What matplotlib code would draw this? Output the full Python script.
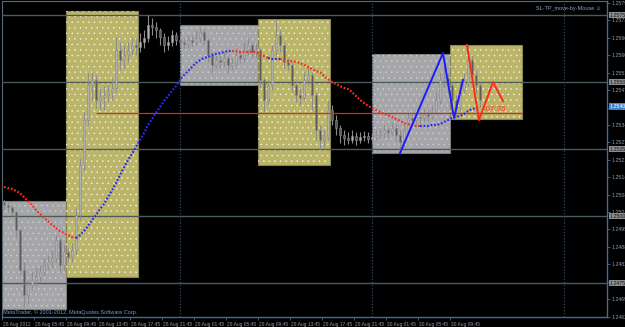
import numpy as np
import matplotlib
matplotlib.use("Agg")
import matplotlib.pyplot as plt
from matplotlib.patches import Rectangle
import matplotlib.transforms as mtransforms

# ---------------- data ----------------
# 30-minute bars, time in hours since 28 Aug 2012 00:00
bar_start_hour = 2.0
bar_step_hour = 0.5
first_open = 1.25053

close = [1.25041, 1.25034, 1.25015, 1.24948, 1.24799, 1.24706, 1.24743, 1.24762, 1.24773, 1.24791,
         1.24818, 1.24829, 1.24844, 1.24911, 1.24818, 1.24866, 1.24847, 1.24873, 1.25004, 1.25191,
         1.25358, 1.25489, 1.25508, 1.25433, 1.25444, 1.25452, 1.25463, 1.25478, 1.25619, 1.25582,
         1.25601, 1.25619, 1.25638, 1.25631, 1.25649, 1.25664, 1.25713, 1.25705, 1.25694, 1.25668,
         1.25638, 1.25649, 1.25675, 1.25657, 1.25649, 1.25642, 1.25657, 1.25649, 1.25664, 1.25687,
         1.25657, 1.25601, 1.25564, 1.25582, 1.25575, 1.25590, 1.25564, 1.25571, 1.25601, 1.25590,
         1.25619, 1.25638, 1.25612, 1.25619, 1.25508, 1.25433, 1.25489, 1.25619, 1.25675, 1.25638,
         1.25575, 1.25564, 1.25489, 1.25452, 1.25440, 1.25508, 1.25526, 1.25452, 1.25321, 1.25284,
         1.25295, 1.25396, 1.25358, 1.25329, 1.25302, 1.25291, 1.25284, 1.25299, 1.25284, 1.25295,
         1.25299, 1.25288, 1.25295, 1.25302, 1.25310, 1.25321, 1.25314, 1.25329, 1.25302, 1.25276,
         1.25321, 1.25366, 1.25358, 1.25370, 1.25366, 1.25381, 1.25373, 1.25388, 1.25433, 1.25508,
         1.25515, 1.25489, 1.25433, 1.25403, 1.25470, 1.25500, 1.25582, 1.25526, 1.25489, 1.25433]

high = [1.25060, 1.25053, 1.25045, 1.25023, 1.24956, 1.24829, 1.24762, 1.24791, 1.24806, 1.24818,
        1.24844, 1.24855, 1.24873, 1.24929, 1.24918, 1.24892, 1.24881, 1.24900, 1.25030, 1.25217,
        1.25388, 1.25534, 1.25537, 1.25526, 1.25478, 1.25485, 1.25489, 1.25515, 1.25668, 1.25649,
        1.25638, 1.25649, 1.25664, 1.25664, 1.25683, 1.25694, 1.25750, 1.25739, 1.25724, 1.25702,
        1.25683, 1.25672, 1.25694, 1.25687, 1.25675, 1.25664, 1.25675, 1.25675, 1.25694, 1.25705,
        1.25702, 1.25664, 1.25612, 1.25601, 1.25601, 1.25612, 1.25601, 1.25590, 1.25627, 1.25619,
        1.25649, 1.25664, 1.25649, 1.25642, 1.25627, 1.25515, 1.25508, 1.25638, 1.25731, 1.25694,
        1.25649, 1.25590, 1.25575, 1.25508, 1.25478, 1.25537, 1.25556, 1.25537, 1.25463, 1.25340,
        1.25321, 1.25433, 1.25414, 1.25377, 1.25340, 1.25321, 1.25314, 1.25321, 1.25314, 1.25314,
        1.25317, 1.25314, 1.25310, 1.25321, 1.25329, 1.25340, 1.25332, 1.25351, 1.25343, 1.25321,
        1.25340, 1.25388, 1.25385, 1.25388, 1.25392, 1.25399, 1.25396, 1.25411, 1.25463, 1.25537,
        1.25582, 1.25534, 1.25500, 1.25452, 1.25496, 1.25534, 1.25638, 1.25601, 1.25545, 1.25500]

low = [1.25023, 1.25015, 1.25000, 1.24918, 1.24780, 1.24661, 1.24676, 1.24724, 1.24739, 1.24754,
       1.24777, 1.24799, 1.24810, 1.24829, 1.24791, 1.24799, 1.24829, 1.24829, 1.24859, 1.24985,
       1.25172, 1.25340, 1.25433, 1.25403, 1.25396, 1.25396, 1.25426, 1.25433, 1.25463, 1.25545,
       1.25552, 1.25575, 1.25601, 1.25601, 1.25612, 1.25627, 1.25649, 1.25675, 1.25664, 1.25638,
       1.25612, 1.25619, 1.25634, 1.25638, 1.25631, 1.25627, 1.25627, 1.25631, 1.25638, 1.25649,
       1.25638, 1.25575, 1.25534, 1.25552, 1.25552, 1.25560, 1.25534, 1.25545, 1.25560, 1.25571,
       1.25575, 1.25601, 1.25590, 1.25590, 1.25478, 1.25388, 1.25414, 1.25470, 1.25601, 1.25612,
       1.25552, 1.25545, 1.25463, 1.25426, 1.25414, 1.25433, 1.25489, 1.25396, 1.25284, 1.25246,
       1.25258, 1.25284, 1.25340, 1.25302, 1.25273, 1.25265, 1.25269, 1.25273, 1.25265, 1.25273,
       1.25280, 1.25273, 1.25276, 1.25284, 1.25288, 1.25295, 1.25295, 1.25302, 1.25280, 1.25246,
       1.25258, 1.25310, 1.25340, 1.25343, 1.25347, 1.25355, 1.25351, 1.25362, 1.25381, 1.25418,
       1.25478, 1.25459, 1.25396, 1.25370, 1.25388, 1.25459, 1.25485, 1.25496, 1.25459, 1.25407]

# moving average (dotted, red = falling, blue = rising)
ma = [1.25109, 1.25105, 1.25101, 1.25094, 1.25086, 1.25071, 1.25056, 1.25041, 1.25023, 1.25008,
      1.24993, 1.24982, 1.24967, 1.24956, 1.24944, 1.24937, 1.24929, 1.24922, 1.24918, 1.24929,
      1.24944, 1.24963, 1.24985, 1.25004, 1.25026, 1.25045, 1.25071, 1.25097, 1.25123, 1.25153,
      1.25183, 1.25209, 1.25232, 1.25258, 1.25284, 1.25310, 1.25340, 1.25362, 1.25385, 1.25407,
      1.25429, 1.25448, 1.25467, 1.25485, 1.25508, 1.25526, 1.25541, 1.25556, 1.25571, 1.25582,
      1.25590, 1.25593, 1.25601, 1.25605, 1.25608, 1.25612, 1.25616, 1.25616, 1.25615, 1.25612,
      1.25612, 1.25612, 1.25612, 1.25612, 1.25605, 1.25597, 1.25590, 1.25586, 1.25586, 1.25586,
      1.25582, 1.25578, 1.25578, 1.25575, 1.25571, 1.25564, 1.25556, 1.25549, 1.25541, 1.25537,
      1.25522, 1.25511, 1.25500, 1.25493, 1.25485, 1.25478, 1.25474, 1.25463, 1.25448, 1.25433,
      1.25422, 1.25411, 1.25403, 1.25396, 1.25388, 1.25381, 1.25377, 1.25370, 1.25362, 1.25355,
      1.25347, 1.25343, 1.25340, 1.25336, 1.25336, 1.25336, 1.25336, 1.25340, 1.25340, 1.25343,
      1.25351, 1.25358, 1.25366, 1.25370, 1.25373, 1.25381, 1.25392, 1.25399, 1.25403, 1.25403]
# trend runs of the MA: (number of points, 'down'/'up')
ma_runs = [(19, "down"), (39, "up"), (9, "down"), (3, "up"), (35, "down"), (15, "up")]

# session rectangles: (start hour, end hour, top price, bottom price, kind)
boxes = [(1.75, 9.75, 1.25056, 1.24653, "range"),
         (9.75, 18.75, 1.25765, 1.24773, "break"),
         (24.0, 33.75, 1.25713, 1.25489, "range"),
         (33.75, 42.75, 1.25735, 1.25191, "break"),
         (48.0, 57.75, 1.25605, 1.25235, "range"),
         (57.75, 66.75, 1.25638, 1.25362, "break")]

level_lines = [1.2575, 1.2550, 1.2525, 1.2500, 1.2475]
day_separators = [24.0, 48.0, 72.0]
red_level = 1.25385
red_level_span = (13.5, 66.75)

zz_blue_t = [51.5, 56.875, 58.25, 59.375]
zz_blue_p = [1.25235, 1.25608, 1.25366, 1.25508]
zz_red_t = [59.875, 61.375, 63.125, 64.375]
zz_red_p = [1.25638, 1.25358, 1.25500, 1.25429]
timer_text = "-07:35"
timer_pos = (61.9, 1.25396)

price_ticks = [round(1.25795 - 0.00065 * k, 5) for k in range(19)]
bid_price = 1.25409

time_ticks = [1.75 + 4 * k for k in range(15)]
time_labels = ["28 Aug 2012", "28 Aug 05:45", "28 Aug 09:45", "28 Aug 13:45", "28 Aug 17:45",
               "28 Aug 21:45", "29 Aug 01:45", "29 Aug 05:45", "29 Aug 09:45", "29 Aug 13:45",
               "29 Aug 17:45", "29 Aug 21:45", "30 Aug 01:45", "30 Aug 05:45", "30 Aug 09:45"]

# ---------------- figure ----------------
plt.rcParams["font.family"] = ["Liberation Sans", "DejaVu Sans"]
plt.rcParams["hatch.linewidth"] = 0.3

W, H = 625, 327
fig = plt.figure(figsize=(W / 100, H / 100), dpi=100, facecolor="black")
ax = fig.add_axes([2 / W, 10 / H, 605 / W, 316 / H])
ax.set_facecolor("black")
ax.set_xlim(1.75, 77.375)
ax.set_ylim(1.246236, 1.258023)

# rectangles
for t0, t1, ptop, pbot, kind in boxes:
    fc = "#bbb56a" if kind == "break" else "#a6a6a8"
    ec = "#8a8650" if kind == "break" else "#7c7c7c"
    ax.add_patch(Rectangle((t0, pbot), t1 - t0, ptop - pbot, facecolor=fc,
                           edgecolor=ec, lw=0.8, zorder=1))
    ax.add_patch(Rectangle((t0, pbot), t1 - t0, ptop - pbot, facecolor="none",
                           edgecolor=(1, 1, 1, 0.85) if kind == "break" else (0.85, 0.85, 0.95, 0.8),
                           hatch="...", lw=0, zorder=1.1))

# horizontal level lines & day separators
for p in level_lines:
    ax.axhline(p, color="#4b5a5a", lw=1.0, zorder=3)
for t in day_separators:
    ax.axvline(t, color="#2d4a68", lw=0.9, ls=(0, (1, 1.5)), zorder=3)

# candles
times = bar_start_hour + bar_step_hour * np.arange(len(close))
opens = [first_open] + close[:-1]
ax.vlines(times, low, high, color="#8c8c8c", lw=0.8, zorder=4)
for t, o, c in zip(times, opens, close):
    bottom = min(o, c)
    height = max(abs(c - o), 0.000015)
    fc = "#b0b0b0" if c >= o else "#5a5a5a"
    ax.add_patch(Rectangle((t - 0.15, bottom), 0.3, height, facecolor=fc,
                           edgecolor="#8c8c8c", lw=0.4, zorder=4.1))

# red level line
ax.hlines(red_level, red_level_span[0], red_level_span[1], color="#c8341e", lw=0.9, zorder=5)

# moving average
start = 0
for n, kind in ma_runs:
    a = max(start - 1, 0)
    b = start + n
    ax.plot(times[a:b], ma[a:b], color="#ff2a1a" if kind == "down" else "#2a2aff",
            lw=1.6, ls=(0, (0.8, 0.8)), zorder=6)
    start += n

# zigzags
ax.plot(zz_blue_t, zz_blue_p, color="#1a1aff", lw=1.4, zorder=7)
ax.plot(zz_red_t, zz_red_p, color="#ff2a1a", lw=1.4, zorder=7)
ax.text(timer_pos[0], timer_pos[1], timer_text, color="#ff3a2a", fontsize=5.8,
        ha="left", va="center", zorder=8)

# axes styling
for side in ["left", "top"]:
    ax.spines[side].set_color("#5a6878")
    ax.spines[side].set_linewidth(0.8)
for side in ["right", "bottom"]:
    ax.spines[side].set_color("#3e6c9e")
    ax.spines[side].set_linewidth(1.0)

ax.yaxis.tick_right()
ax.set_yticks(price_ticks)
ax.set_yticklabels([f"{p:.5f}" for p in price_ticks])
ax.tick_params(axis="y", colors="#3e6c9e", labelcolor="#8e9aa8", labelsize=3.8,
               length=2, width=0.6, pad=1.2)
ax.set_xticks(time_ticks)
ax.set_xticklabels(time_labels)
ax.tick_params(axis="x", colors="#3e6c9e", labelcolor="#8e9aa8", labelsize=3.5,
               length=2, width=0.6, pad=1.5)
offset = mtransforms.ScaledTranslation(0.6 / 72, 0, fig.dpi_scale_trans)
for lab in ax.get_xticklabels():
    lab.set_ha("left")
    lab.set_transform(lab.get_transform() + offset)

# highlighted price labels on the axis
trans = mtransforms.blended_transform_factory(ax.transAxes, ax.transData)
for p in level_lines:
    ax.text(1.004, p, f"{p:.5f}", transform=trans, fontsize=3.8, color="#1a1a1a",
            ha="left", va="center", clip_on=False, zorder=9,
            bbox=dict(boxstyle="square,pad=0.12", fc="#8c8c8c", ec="none"))
ax.text(1.004, bid_price, f"{bid_price:.5f}", transform=trans, fontsize=3.8, color="#ffffff",
        ha="left", va="center", clip_on=False, zorder=9,
        bbox=dict(boxstyle="square,pad=0.12", fc="#3f86d0", ec="none"))

# texts
ax.text(0.99, 0.985, "SL-TP_move-by-Mouse \u263a", transform=ax.transAxes, fontsize=4.0,
        color="#8f9cc0", ha="right", va="top", zorder=9)
ax.text(0.002, 0.006, "MetaTrader, \u00a9 2001-2012, MetaQuotes Software Corp.",
        transform=ax.transAxes, fontsize=4.0, color="#6f9ccf", ha="left", va="bottom", zorder=9)

fig.savefig("out.png", dpi=100, facecolor="black")
